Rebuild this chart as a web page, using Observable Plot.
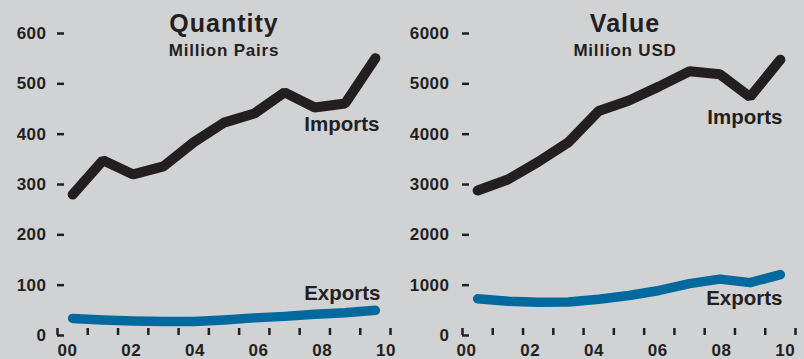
<!DOCTYPE html>
<html><head><meta charset="utf-8">
<script src="https://cdn.jsdelivr.net/npm/d3@7"></script>
<script src="https://cdn.jsdelivr.net/npm/@observablehq/plot@0.6"></script>
<style>
html,body{margin:0;padding:0;background:#d1d2d4;}
#wrap{display:flex;width:804px;height:359px;overflow:hidden;}
#wrap svg{display:block;}
</style></head><body><div id="wrap"></div>
<script>
// ---- data ----
const years = [2000, 2001, 2002, 2003, 2004, 2005, 2006, 2007, 2008, 2009, 2010];
const qtyImports = [280, 348, 320, 336, 384, 423, 441, 483, 453, 461, 551];
const qtyExports = [34, 31, 29, 28, 28, 31, 35, 38, 42, 45, 50];
const valImports = [2880, 3100, 3450, 3840, 4460, 4670, 4950, 5250, 5190, 4740, 5480];
const valExports = [730, 680, 660, 665, 720, 795, 895, 1030, 1120, 1050, 1210];
const qtyTicks = [0, 100, 200, 300, 400, 500, 600];
const valTicks = [0, 1000, 2000, 3000, 4000, 5000, 6000];
const yearTicks = [2000, 2001, 2002, 2003, 2004, 2005, 2006, 2007, 2008, 2009, 2010, 2011];
const yearLabels = [2000, 2002, 2004, 2006, 2008, 2010];
const titles = ["Quantity", "Value"];
const subtitles = ["Million Pairs", "Million USD"];
const seriesNames = ["Imports", "Exports"];

const ink = "#231f20";
const blue = "#00699d";
const bg = "#d1d2d4";
const font = "'Liberation Sans', Arial, Helvetica, sans-serif";

function panel(cfg) {
  const rows = years.map((year, i) => ({year, imports: cfg.imports[i], exports: cfg.exports[i]}));
  const svg = Plot.plot({
    width: 402,
    height: 359,
    marginLeft: cfg.marginLeft,
    marginRight: cfg.marginRight,
    marginTop: 33,
    marginBottom: 24,
    style: {background: bg, fontFamily: font, overflow: "visible"},
    x: {domain: [2000, 2011], axis: null},
    y: {domain: [0, cfg.yMax], axis: null},
    marks: [
      // y tick dashes (inward)
      Plot.ruleY(cfg.yTicks, {y: d => d, x1: () => 2000, x2: () => 2000, insetRight: -7, stroke: ink, strokeWidth: 2.5}),
      // x tick marks (inward)
      Plot.ruleX(yearTicks, {x: d => d, y1: () => 0, y2: () => 0, insetTop: -7, stroke: ink, strokeWidth: 2.5}),
      // y tick labels
      Plot.text(cfg.yTicks, {y: d => d, frameAnchor: "left", textAnchor: "end", dx: cfg.tickDx, text: d => String(d),
        fontSize: 17, fontWeight: "bold", fill: ink}),
      // x tick labels
      Plot.text(yearLabels, {x: d => d + cfg.labelShift + cfg.labelStretch * (d - 2000), frameAnchor: "bottom", lineAnchor: "bottom", dy: 20,
        text: d => String(d % 100).padStart(2, "0"), fontSize: 17, fontWeight: "bold", fill: ink}),
      // lines
      Plot.line(rows, {x: d => d.year + 0.5, y: "exports", stroke: blue, strokeWidth: 9.5, strokeLinecap: "round", strokeLinejoin: "round"}),
      Plot.line(rows, {x: d => d.year + 0.5, y: "imports", stroke: ink, strokeWidth: 10, strokeLinecap: "round", strokeLinejoin: "miter"}),
      // titles
      Plot.text([cfg.title], {frameAnchor: "top", lineAnchor: "bottom", dy: -2, dx: cfg.titleDx, text: d => d,
        fontSize: 25, fontWeight: "bold", fill: ink}),
      Plot.text([cfg.subtitle], {frameAnchor: "top", lineAnchor: "bottom", dy: 22.5, dx: cfg.titleDx, text: d => d,
        fontSize: 17, fontWeight: "bold", fill: ink}),
      // series labels
      Plot.text([seriesNames[0]], {frameAnchor: "top-right", lineAnchor: "bottom", textAnchor: "end", dx: cfg.impDx, dy: cfg.impDy,
        text: d => d, fontSize: 20.5, fontWeight: "bold", fill: ink}),
      Plot.text([seriesNames[1]], {frameAnchor: "top-right", lineAnchor: "bottom", textAnchor: "end", dx: cfg.expDx, dy: cfg.expDy,
        text: d => d, fontSize: 20.5, fontWeight: "bold", fill: ink})
    ]
  });
  svg.querySelectorAll("text").forEach(t => {
    const s = t.textContent;
    if (titles.includes(s)) t.setAttribute("letter-spacing", "1");
    else if (subtitles.includes(s)) t.setAttribute("letter-spacing", "0.8");
    else if (/^\d+$/.test(s)) t.setAttribute("letter-spacing", "0.5");
  });
  return svg;
}

const wrap = document.getElementById("wrap");
wrap.appendChild(panel({
  imports: qtyImports, exports: qtyExports, yTicks: qtyTicks, yMax: 600,
  marginLeft: 57, marginRight: 12, tickDx: -11,
  labelShift: 0.33, labelStretch: 0.052,
  title: titles[0], subtitle: subtitles[0], titleDx: 0,
  impDx: -11, impDy: 97, expDx: -10, expDy: 266
}));
wrap.appendChild(panel({
  imports: valImports, exports: valExports, yTicks: valTicks, yMax: 6000,
  marginLeft: 60, marginRight: 9, tickDx: -13,
  labelShift: 0.13, labelStretch: 0.053,
  title: titles[1], subtitle: subtitles[1], titleDx: -4,
  impDx: -13, impDy: 90, expDx: -13, expDy: 271
}));
</script>
</body></html>
